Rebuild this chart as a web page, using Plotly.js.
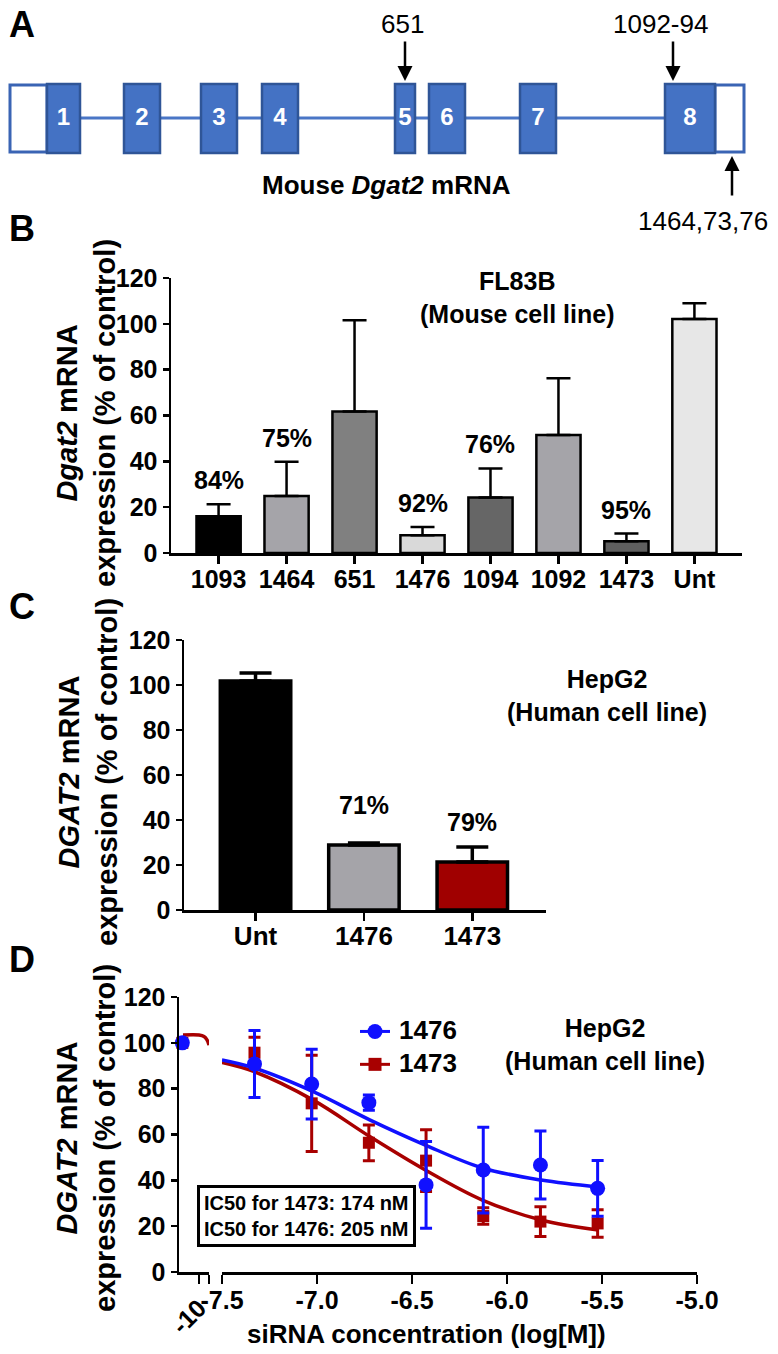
<!DOCTYPE html>
<html><head><meta charset="utf-8">
<script src="https://cdn.plot.ly/plotly-3.0.1.min.js"></script>
<style>html,body{margin:0;padding:0;background:#fff}</style>
</head><body><div id="chart" style="width:778px;height:1354px"></div>
<script>
// ---------- Panel A: gene structure ----------
const exonNames = ['1','2','3','4','5','6','7','8'];
const exonStart = [47,124,201,262,395,429,520,665];
const exonEnd   = [80,160,237,298,415,465,556,715];
const utrStart  = [10,715];
const utrEnd    = [47,744];
const siteLabels = ['651','1092-94','1464,73,76'];
const sitePos    = [405,673,732];

// ---------- Panel B: FL83B ----------
const bCats = ['1093','1464','651','1476','1094','1092','1473','Unt'];
const bVals = [16.0,24.9,61.7,7.7,24.2,51.5,5.1,102.1];
const bErr  = [5.3,14.9,39.9,3.7,12.7,24.8,3.4,6.9];
const bPct  = ['84%','75%','','92%','76%','','95%',''];
const bColors = ['#000000','#a5a4a9','#808080','#d9d9d9','#666666','#a5a4a9','#5f5f5f','#e7e7e7'];

// ---------- Panel C: HepG2 ----------
const cCats = ['Unt','1476','1473'];
const cVals = [101.8,28.9,21.3];
const cErr  = [3.5,0.9,6.7];
const cPct  = ['','71%','79%'];
const cColors = ['#000000','#a5a4a9','#a00000'];

// ---------- Panel D: dose response ----------
const dSeries = ['1476','1473'];
const dLogConc = [-7.329,-7.028,-6.727,-6.426,-6.125,-5.824,-5.523];
const dUntLog = [-10.5];
const dUnt1476 = [100];
const dUnt1473 = [100];
const d1476    = [90.8,82.0,73.9,38.0,44.5,46.7,36.5];
const d1476Err = [14.6,15.2,3.3,18.9,18.7,14.8,12.2];
const d1473    = [95.7,73.6,56.4,48.6,24.4,22.0,21.2];
const d1473Err = [6.7,21.0,7.8,13.5,3.6,6.5,6.0];
const fitLog  = [-7.5,-7.33,-7.02,-6.72,-6.43,-6.13,-5.82,-5.52];
const fit1476 = [92.5,89.0,78.7,66.3,55.4,45.4,40.1,37.1];
const fit1473 = [91.4,87.4,75.0,59.0,44.5,31.4,22.7,18.3];
const fitBreakLog  = [-10.48,-10.0,-9.85,-9.76,-9.7];
const fitBreak1473 = [103.4,103.4,102.8,101.3,99.0];
const dTicks = [-7.5,-7.0,-6.5,-6.0,-5.5,-5.0];
const dTickText = ['-7.5','-7.0','-6.5','-6.0','-5.5','-5.0'];

const W = 778, H = 1354;
const px = v => v / W;
const py = v => 1 - v / H;
const ff = 'Liberation Sans, Arial, Helvetica, sans-serif';
const RED = '#a80000', BLUE = '#1010ff';

const axBase = {
  showline:true, linecolor:'#000', linewidth:2.5, ticks:'outside', ticklen:7, tickwidth:2.5,
  tickcolor:'#000', showgrid:false, zeroline:false, fixedrange:true,
  tickfont:{family:ff, size:25, weight:'bold', color:'#000'}
};

const traces = [];
// Panel A exon numbers
traces.push({
  type:'scatter', mode:'text', xaxis:'x5', yaxis:'y5', showlegend:false,
  x: exonStart.map((s,i)=>(s+exonEnd[i])/2), y: exonNames.map(()=>119),
  text: exonNames, textfont:{family:ff, size:24, weight:'bold', color:'#fff'}, hoverinfo:'skip'
});
// Panel B
traces.push({
  type:'bar', x:bCats, y:bVals, xaxis:'x', yaxis:'y', width:0.65, showlegend:false,
  marker:{color:bColors, line:{color:'#000', width:2.5}},
  error_y:{type:'data', symmetric:false, array:bErr, arrayminus:bErr.map(()=>0), color:'#000', thickness:2.5, width:12}
});
// Panel C
traces.push({
  type:'bar', x:cCats, y:cVals, xaxis:'x2', yaxis:'y2', width:0.65, showlegend:false,
  marker:{color:cColors, line:{color:'#000', width:3.5}},
  error_y:{type:'data', symmetric:false, array:cErr, arrayminus:cErr.map(()=>0), color:'#000', thickness:3.5, width:16}
});
// Panel D fits
traces.push({type:'scatter', mode:'lines', x:fitLog, y:fit1473, xaxis:'x3', yaxis:'y3', showlegend:false,
  line:{color:RED, width:3.5, shape:'spline'}});
traces.push({type:'scatter', mode:'lines', x:fitBreakLog, y:fitBreak1473, xaxis:'x4', yaxis:'y3', showlegend:false,
  line:{color:RED, width:3.5, shape:'spline'}, cliponaxis:false});
traces.push({type:'scatter', mode:'lines', x:fitLog, y:fit1476, xaxis:'x3', yaxis:'y3', showlegend:false,
  line:{color:BLUE, width:3.5, shape:'spline'}});
// Panel D data
traces.push({type:'scatter', mode:'markers', x:dLogConc, y:d1473, xaxis:'x3', yaxis:'y3', showlegend:false, cliponaxis:false,
  marker:{symbol:'square', size:12, color:RED},
  error_y:{type:'data', array:d1473Err, color:RED, thickness:3, width:6}});
traces.push({type:'scatter', mode:'markers', x:dUntLog, y:dUnt1473, xaxis:'x4', yaxis:'y3', showlegend:false, cliponaxis:false,
  marker:{symbol:'square', size:12, color:RED}});
traces.push({type:'scatter', mode:'markers', x:dLogConc, y:d1476, xaxis:'x3', yaxis:'y3', showlegend:false, cliponaxis:false,
  marker:{symbol:'circle', size:15, color:BLUE},
  error_y:{type:'data', array:d1476Err, color:BLUE, thickness:3, width:6}});
traces.push({type:'scatter', mode:'markers', x:dUntLog, y:dUnt1476, xaxis:'x4', yaxis:'y3', showlegend:false, cliponaxis:false,
  marker:{symbol:'circle', size:15, color:BLUE}});
// legend symbols (labels drawn as annotations)
traces.push({type:'scatter', mode:'lines+markers', x:[null], y:[null], xaxis:'x3', yaxis:'y3', name:'',
  line:{color:BLUE, width:3}, marker:{symbol:'circle', size:15, color:BLUE}});
traces.push({type:'scatter', mode:'lines+markers', x:[null], y:[null], xaxis:'x3', yaxis:'y3', name:'',
  line:{color:RED, width:3}, marker:{symbol:'square', size:13, color:RED}});

// ---------- shapes for panel A ----------
const shapes = [];
shapes.push({type:'line', xref:'x5', yref:'y5', x0:exonEnd[0], x1:exonStart[exonStart.length-1], y0:118, y1:118,
  line:{color:'#4a76c6', width:3}, layer:'below'});
utrStart.forEach((s,i)=>shapes.push({type:'rect', xref:'x5', yref:'y5', x0:s, x1:utrEnd[i], y0:85, y1:152,
  fillcolor:'#ffffff', line:{color:'#3a64b4', width:3}, layer:'below'}));
exonStart.forEach((s,i)=>shapes.push({type:'rect', xref:'x5', yref:'y5', x0:s, x1:exonEnd[i], y0:84, y1:153,
  fillcolor:'#4472c4', line:{color:'#2f5597', width:2.5}, layer:'below'}));

// ---------- annotations ----------
const ann = [];
const T = (text, x, y, size, opts={}) => Object.assign({
  text, x:px(x), y:py(y), xref:'paper', yref:'paper', showarrow:false, xanchor:'center', yanchor:'middle',
  font:{family:ff, size, weight:'bold', color:'#000'}
}, opts);
// panel letters
ann.push(T('A', 7, 25, 36, {xanchor:'left'}));
ann.push(T('B', 7, 229, 36, {xanchor:'left'}));
ann.push(T('C', 7, 606, 36, {xanchor:'left'}));
ann.push(T('D', 7, 959, 36, {xanchor:'left'}));
// panel A labels and arrows
ann.push(T(siteLabels[0], 403, 24, 26, {font:{family:ff, size:26, color:'#000'}}));
ann.push(T(siteLabels[1], 660, 24, 26, {font:{family:ff, size:26, color:'#000'}}));
ann.push(T(siteLabels[2], 703, 221, 26, {font:{family:ff, size:26, color:'#000'}}));
const arrowStyle = {text:'', showarrow:true, arrowhead:2, arrowsize:1.2, arrowwidth:2.5, arrowcolor:'#000',
  xref:'x5', yref:'y5', axref:'x5', ayref:'y5'};
ann.push(Object.assign({x:sitePos[0], y:81, ax:sitePos[0], ay:40}, arrowStyle));
ann.push(Object.assign({x:sitePos[1], y:81, ax:sitePos[1], ay:40}, arrowStyle));
ann.push(Object.assign({x:sitePos[2], y:156, ax:sitePos[2], ay:197}, arrowStyle));
ann.push(T('Mouse <i>Dgat2</i> mRNA', 386, 185, 26));
// y titles
ann.push(T('<i>Dgat2</i> mRNA<br>expression (% of control)', 86, 413, 29, {textangle:-90}));
ann.push(T('<i>DGAT2</i> mRNA<br>expression (% of control)', 88, 772, 29, {textangle:-90}));
ann.push(T('<i>DGAT2</i> mRNA<br>expression (% of control)', 86, 1138, 29, {textangle:-90}));
// panel notes
ann.push(T('FL83B<br>(Mouse cell line)', 517, 297, 25));
ann.push(T('HepG2<br>(Human cell line)', 607, 695, 25));
ann.push(T('HepG2<br>(Human cell line)', 605, 1044, 25));
ann.push(T('siRNA concentration (log[M])', 426, 1334, 26));
ann.push(T('IC50 for 1473: 174 nM<br>IC50 for 1476: 205 nM', 306, 1216, 20,
  {bgcolor:'#fff', bordercolor:'#000', borderwidth:3, borderpad:4, align:'left'}));
// legend labels
ann.push(T(dSeries[0], 398, 1030, 26, {xanchor:'left', borderpad:0}));
ann.push(T(dSeries[1], 398, 1063, 26, {xanchor:'left', borderpad:0}));
// percentage labels (category index used as x so numeric-looking names are not misread)
bCats.forEach((c,i)=>{ if (bPct[i]) ann.push({xref:'x', yref:'y', x:i, y:bVals[i]+bErr[i], text:bPct[i], showarrow:false,
  yanchor:'bottom', yshift:8, font:{family:ff, size:25, weight:'bold', color:'#000'}}); });
const cShift = [0,22,9];
cCats.forEach((c,i)=>{ if (cPct[i]) ann.push({xref:'x2', yref:'y2', x:i, y:cVals[i]+cErr[i], text:cPct[i], showarrow:false,
  yanchor:'bottom', yshift:cShift[i], font:{family:ff, size:25, weight:'bold', color:'#000'}}); });

const layout = {
  width:W, height:H, margin:{l:0,r:0,t:0,b:0}, paper_bgcolor:'#fff', plot_bgcolor:'rgba(0,0,0,0)',
  font:{family:ff, color:'#000'}, showlegend:true, bargap:0,
  xaxis: Object.assign({}, axBase, {domain:[px(171),px(742)], anchor:'y', type:'category', range:[-0.7,7.7], ticklen:8, ticklabelstandoff:-6}),
  yaxis: Object.assign({}, axBase, {domain:[py(553),py(278)], anchor:'x', range:[0,120], dtick:20, ticklen:6}),
  xaxis2: Object.assign({}, axBase, {domain:[px(184),px(546)], anchor:'y2', type:'category', range:[-0.66,2.68], ticklen:8,
    ticklabelstandoff:-7, tickfont:{family:ff, size:26, weight:'bold', color:'#000'}}),
  yaxis2: Object.assign({}, axBase, {domain:[py(910),py(640)], anchor:'x2', range:[0,120], dtick:20, ticklen:6}),
  xaxis3: Object.assign({}, axBase, {domain:[px(222),px(697)], anchor:'y3', range:[-7.5,-5.0], tickmode:'array',
    tickvals:dTicks, ticktext:dTickText, ticklen:9, ticklabelstandoff:-5}),
  xaxis4: Object.assign({}, axBase, {domain:[px(179),px(209)], anchor:'y3', range:[-10.6,-9.7], tickmode:'array',
    tickvals:[-10,-9.7], ticktext:['-10',''], tickangle:-45, ticklen:9}),
  yaxis3: Object.assign({}, axBase, {domain:[py(1272),py(997)], anchor:'x4', range:[0,120], dtick:20, ticklen:6}),
  xaxis5: {domain:[0,1], anchor:'y5', range:[0,W], visible:false, fixedrange:true},
  yaxis5: {domain:[py(240),1], anchor:'x5', range:[240,0], visible:false, fixedrange:true},
  legend:{x:px(355), y:py(1010), xanchor:'left', yanchor:'top', bgcolor:'rgba(0,0,0,0)',
    font:{family:ff, size:23, weight:'bold', color:'#000'}, tracegroupgap:0},
  shapes, annotations:ann
};
Plotly.newPlot('chart', traces, layout, {staticPlot:true, displayModeBar:false});
</script></body></html>
